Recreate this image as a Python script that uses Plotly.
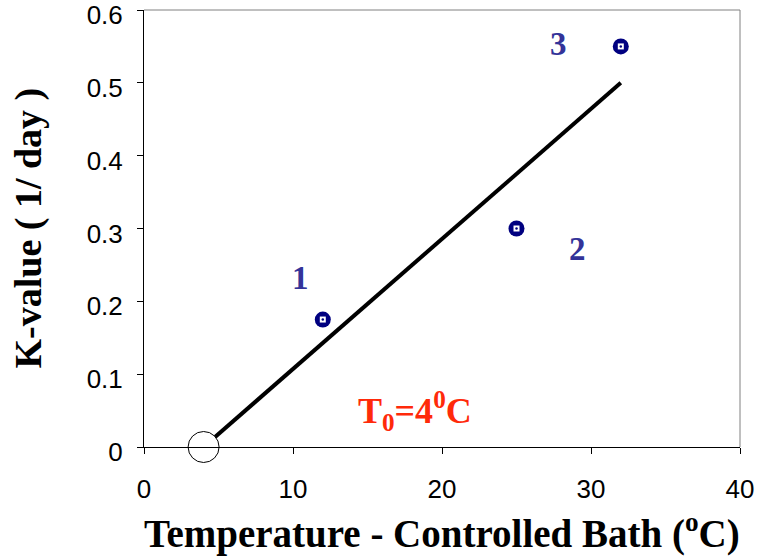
import plotly.graph_objects as go

# Measured reaction rate constants at three bath temperatures
temperature_c = [12, 25, 32]
k_value = [0.175, 0.30, 0.55]
point_labels = ["1", "2", "3"]

# Fitted line: zero rate at T0, rising to the value at the highest temperature
t0 = 4
fit_x = [t0, 32]
fit_y = [0.0, 0.50]

x_ticks = [0, 10, 20, 30, 40]
y_ticks = [0, 0.1, 0.2, 0.3, 0.4, 0.5, 0.6]

navy = "#000080"
label_blue = "#333399"
serif = "Liberation Serif, Times New Roman, serif"
sans = "Liberation Sans, Arial, sans-serif"

fig = go.Figure()

# Regression line
fig.add_trace(go.Scatter(
    x=fit_x, y=fit_y, mode="lines",
    line=dict(color="black", width=4),
    showlegend=False, hoverinfo="skip",
))

# Open ellipse marking the intercept T0 on the temperature axis
fig.add_trace(go.Scatter(
    x=[t0], y=[0], mode="markers",
    marker=dict(symbol="circle", size=31, color="white",
                line=dict(color="black", width=1)),
    cliponaxis=False, showlegend=False, hoverinfo="skip",
))

# Data points: navy disc with a small white square and centre dot
fig.add_trace(go.Scatter(
    x=temperature_c, y=k_value, mode="markers",
    marker=dict(symbol="circle", size=16, color=navy, line=dict(width=0)),
    cliponaxis=False, showlegend=False,
))
fig.add_trace(go.Scatter(
    x=temperature_c, y=k_value, mode="markers",
    marker=dict(symbol="square", size=6, color="white", line=dict(width=0)),
    cliponaxis=False, showlegend=False, hoverinfo="skip",
))
fig.add_trace(go.Scatter(
    x=temperature_c, y=k_value, mode="markers",
    marker=dict(symbol="circle", size=2.5, color=navy, line=dict(width=0)),
    cliponaxis=False, showlegend=False, hoverinfo="skip",
))

# Point number labels
label_pos = [(10.5, 0.232), (29.1, 0.272), (27.8, 0.553)]
for (lx, ly), txt in zip(label_pos, point_labels):
    fig.add_annotation(
        x=lx, y=ly, text="<b>" + txt + "</b>", showarrow=False,
        font=dict(family=serif, size=33, color=label_blue),
        xanchor="center", yanchor="middle",
    )

# T0 annotation
fig.add_annotation(
    x=18.2, y=0.05, text="<b>T<sub>0</sub>=4<sup>0</sup>C</b>", showarrow=False,
    font=dict(family=serif, size=36, color="#ff2a0a"),
    xanchor="center", yanchor="middle",
)

# Axis titles
fig.add_annotation(
    xref="paper", yref="paper", x=0.5, y=0, yshift=-84,
    text="<b>Temperature - Controlled Bath (<sup>o</sup>C)</b>", showarrow=False,
    font=dict(family=serif, size=39, color="black"),
    xanchor="center", yanchor="middle",
)
fig.add_annotation(
    xref="paper", yref="paper", x=0, xshift=-116, y=0.5,
    text="<b>K-value ( 1/ day )</b>", showarrow=False, textangle=-90,
    font=dict(family=serif, size=38, color="black"),
    xanchor="center", yanchor="middle",
)

# Grey frame along the top and right edges
fig.add_shape(type="line", xref="x domain", yref="y domain",
              x0=0, x1=1, y0=1, y1=1, line=dict(color="#808080", width=1))
fig.add_shape(type="line", xref="x domain", yref="y domain",
              x0=1, x1=1, y0=0, y1=1, line=dict(color="#808080", width=1))

fig.update_xaxes(
    range=[0, 40], tickvals=x_ticks, ticktext=[str(v) for v in x_ticks],
    showgrid=False, zeroline=False, automargin=False,
    showline=True, linecolor="black", linewidth=1,
    ticks="outside", ticklen=6, tickcolor="black",
    ticklabeloverflow="allow", ticklabelstandoff=13,
    tickfont=dict(family=sans, size=26, color="black"),
)
fig.update_yaxes(
    range=[0, 0.6], tickvals=y_ticks, ticktext=["0", "0.1", "0.2", "0.3", "0.4", "0.5", "0.6"],
    showgrid=False, zeroline=False, automargin=False,
    showline=True, linecolor="black", linewidth=1,
    ticks="outside", ticklen=6, tickcolor="black",
    ticklabeloverflow="allow", ticklabelstandoff=9, ticklabelshift=5,
    tickfont=dict(family=sans, size=26, color="black"),
)

fig.update_layout(
    width=764, height=558,
    margin=dict(l=144, r=24, t=10, b=111),
    paper_bgcolor="white", plot_bgcolor="white",
    showlegend=False,
)

fig.write_html("out.html")
